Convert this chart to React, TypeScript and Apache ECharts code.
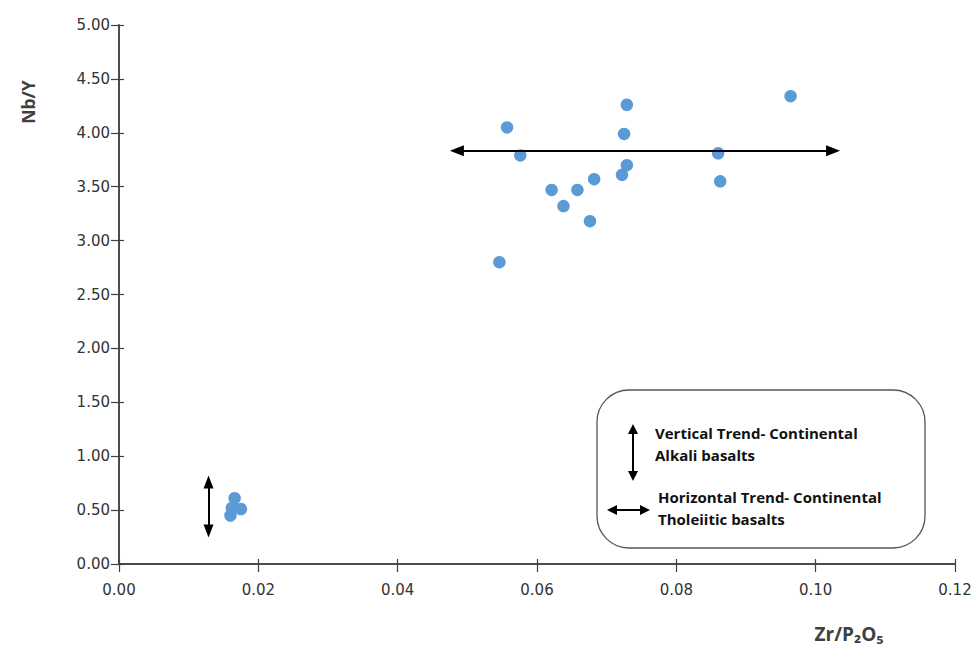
import React, { useEffect, useRef } from "react";
import * as echarts from "echarts";

const xValues = [0.0557, 0.0576, 0.0546, 0.0729, 0.0725, 0.0729, 0.0722, 0.0682, 0.0658, 0.0621, 0.0638, 0.0676, 0.0860, 0.0863, 0.0964, 0.0166, 0.0162, 0.0175, 0.0160];
const yValues = [4.05, 3.79, 2.80, 4.26, 3.99, 3.70, 3.61, 3.57, 3.47, 3.47, 3.32, 3.18, 3.81, 3.55, 4.34, 0.61, 0.52, 0.51, 0.45];

const xTicks = [0, 0.02, 0.04, 0.06, 0.08, 0.1, 0.12];
const yTicks = [0, 0.5, 1, 1.5, 2, 2.5, 3, 3.5, 4, 4.5, 5];

const horizontalTrend = { x1: 0.0485, x2: 0.1025, y: 3.834 };
const verticalTrend = { x: 0.01285, y1: 0.306, y2: 0.761 };

const legendLines = [
  "Vertical Trend- Continental",
  "Alkali basalts",
  "Horizontal Trend- Continental",
  "Tholeiitic basalts",
];

const axisColor = "#404040";
const labelColor = "#333";

export default function App() {
  const ref = useRef<HTMLDivElement>(null);
  useEffect(() => {
    if (!ref.current) return;
    const chart = echarts.init(ref.current, undefined, { renderer: "svg" });
    const points = xValues.map((x, i) => [x, yValues[i]]);
    const xMin = xTicks[0];
    const xMax = xTicks[xTicks.length - 1];
    const yMin = yTicks[0];
    const yMax = yTicks[yTicks.length - 1];
    const xInt = xTicks[1] - xTicks[0];
    const yInt = yTicks[1] - yTicks[0];
    const tickFont = { fontFamily: "DejaVu Sans", fontSize: 15, color: labelColor };
    const legendFont = { fontFamily: "Open Sans", fontWeight: "bold", fontSize: 15, fill: "#111", verticalAlign: "middle" };
    const lineStyle = { color: axisColor, width: 1.5 };
    const tickStyle = { color: axisColor, width: 1.2 };
    chart.setOption({
      animation: false,
      grid: { left: 119, right: 21, top: 25, bottom: 83, containLabel: false },
      xAxis: [
        {
          type: "value",
          min: xMin,
          max: xMax,
          interval: xInt,
          splitLine: { show: false },
          axisLine: { show: true, onZero: false, lineStyle },
          axisTick: { show: true, inside: false, length: 8, lineStyle: tickStyle },
          axisLabel: { ...tickFont, margin: 18, formatter: (v: number) => v.toFixed(2) },
        },
        {
          type: "value",
          position: "bottom",
          offset: 0,
          min: xMin,
          max: xMax,
          interval: xInt,
          splitLine: { show: false },
          axisLine: { show: true, onZero: false, lineStyle },
          axisTick: { show: true, inside: true, length: 5, lineStyle: tickStyle },
          axisLabel: { show: false },
        },
      ],
      yAxis: [
        {
          type: "value",
          min: yMin,
          max: yMax,
          interval: yInt,
          splitLine: { show: false },
          axisLine: { show: true, onZero: false, lineStyle },
          axisTick: { show: true, inside: false, length: 8, lineStyle: tickStyle },
          axisLabel: { ...tickFont, margin: 9, formatter: (v: number) => v.toFixed(2) },
        },
        {
          type: "value",
          position: "left",
          offset: 0,
          min: yMin,
          max: yMax,
          interval: yInt,
          splitLine: { show: false },
          axisLine: { show: true, onZero: false, lineStyle },
          axisTick: { show: true, inside: true, length: 5, lineStyle: tickStyle },
          axisLabel: { show: false },
        },
      ],
      series: [
        {
          type: "scatter",
          xAxisIndex: 0,
          yAxisIndex: 0,
          data: points,
          symbol: "circle",
          symbolSize: 12.5,
          itemStyle: { color: "#5B9BD5", opacity: 1 },
          emphasis: { disabled: true },
          markLine: {
            silent: true,
            animation: false,
            symbol: ["triangle", "triangle"],
            symbolSize: [11, 14],
            label: { show: false },
            emphasis: { disabled: true },
            lineStyle: { color: "#000", width: 2, type: "solid" },
            data: [
              [
                { coord: [horizontalTrend.x1, horizontalTrend.y] },
                { coord: [horizontalTrend.x2, horizontalTrend.y] },
              ],
              [
                { coord: [verticalTrend.x, verticalTrend.y1], symbolSize: [10, 13] },
                { coord: [verticalTrend.x, verticalTrend.y2], symbolSize: [10, 13] },
              ],
            ],
          },
        },
      ],
      graphic: [
        {
          type: "text",
          x: 28,
          y: 102,
          rotation: Math.PI / 2,
          style: {
            text: "Nb/Y",
            fontFamily: "Open Sans",
            fontWeight: "bold",
            fontSize: 17.5,
            fill: axisColor,
            align: "center",
            verticalAlign: "middle",
          },
        },
        {
          type: "text",
          x: 849,
          y: 634,
          style: {
            text: "Zr/P₂O₅",
            fontFamily: "Open Sans",
            fontWeight: "bold",
            fontSize: 19,
            fill: axisColor,
            align: "center",
            verticalAlign: "middle",
          },
        },
        {
          type: "rect",
          shape: { x: 597, y: 390, width: 328, height: 158, r: 32 },
          style: { fill: "#fff", stroke: "#555", lineWidth: 1.3 },
        },
        {
          type: "line",
          shape: { x1: 633, y1: 432, x2: 633, y2: 473 },
          style: { stroke: "#000", lineWidth: 2 },
        },
        {
          type: "polygon",
          shape: { points: [[633, 424], [628, 434], [638, 434]] },
          style: { fill: "#000" },
        },
        {
          type: "polygon",
          shape: { points: [[633, 481], [628, 471], [638, 471]] },
          style: { fill: "#000" },
        },
        {
          type: "line",
          shape: { x1: 615, y1: 510, x2: 642, y2: 510 },
          style: { stroke: "#000", lineWidth: 2 },
        },
        {
          type: "polygon",
          shape: { points: [[607, 510], [617, 505], [617, 515]] },
          style: { fill: "#000" },
        },
        {
          type: "polygon",
          shape: { points: [[650, 510], [640, 505], [640, 515]] },
          style: { fill: "#000" },
        },
        { type: "text", x: 655, y: 433, style: { text: legendLines[0], ...legendFont } },
        { type: "text", x: 655, y: 455, style: { text: legendLines[1], ...legendFont } },
        { type: "text", x: 658, y: 497, style: { text: legendLines[2], ...legendFont } },
        { type: "text", x: 658, y: 519, style: { text: legendLines[3], ...legendFont } },
      ],
    });
    return () => chart.dispose();
  }, []);
  return (
    <div
      ref={ref}
      style={{ position: "fixed", left: 0, top: 0, width: 976, height: 647, background: "#fff" }}
    />
  );
}
